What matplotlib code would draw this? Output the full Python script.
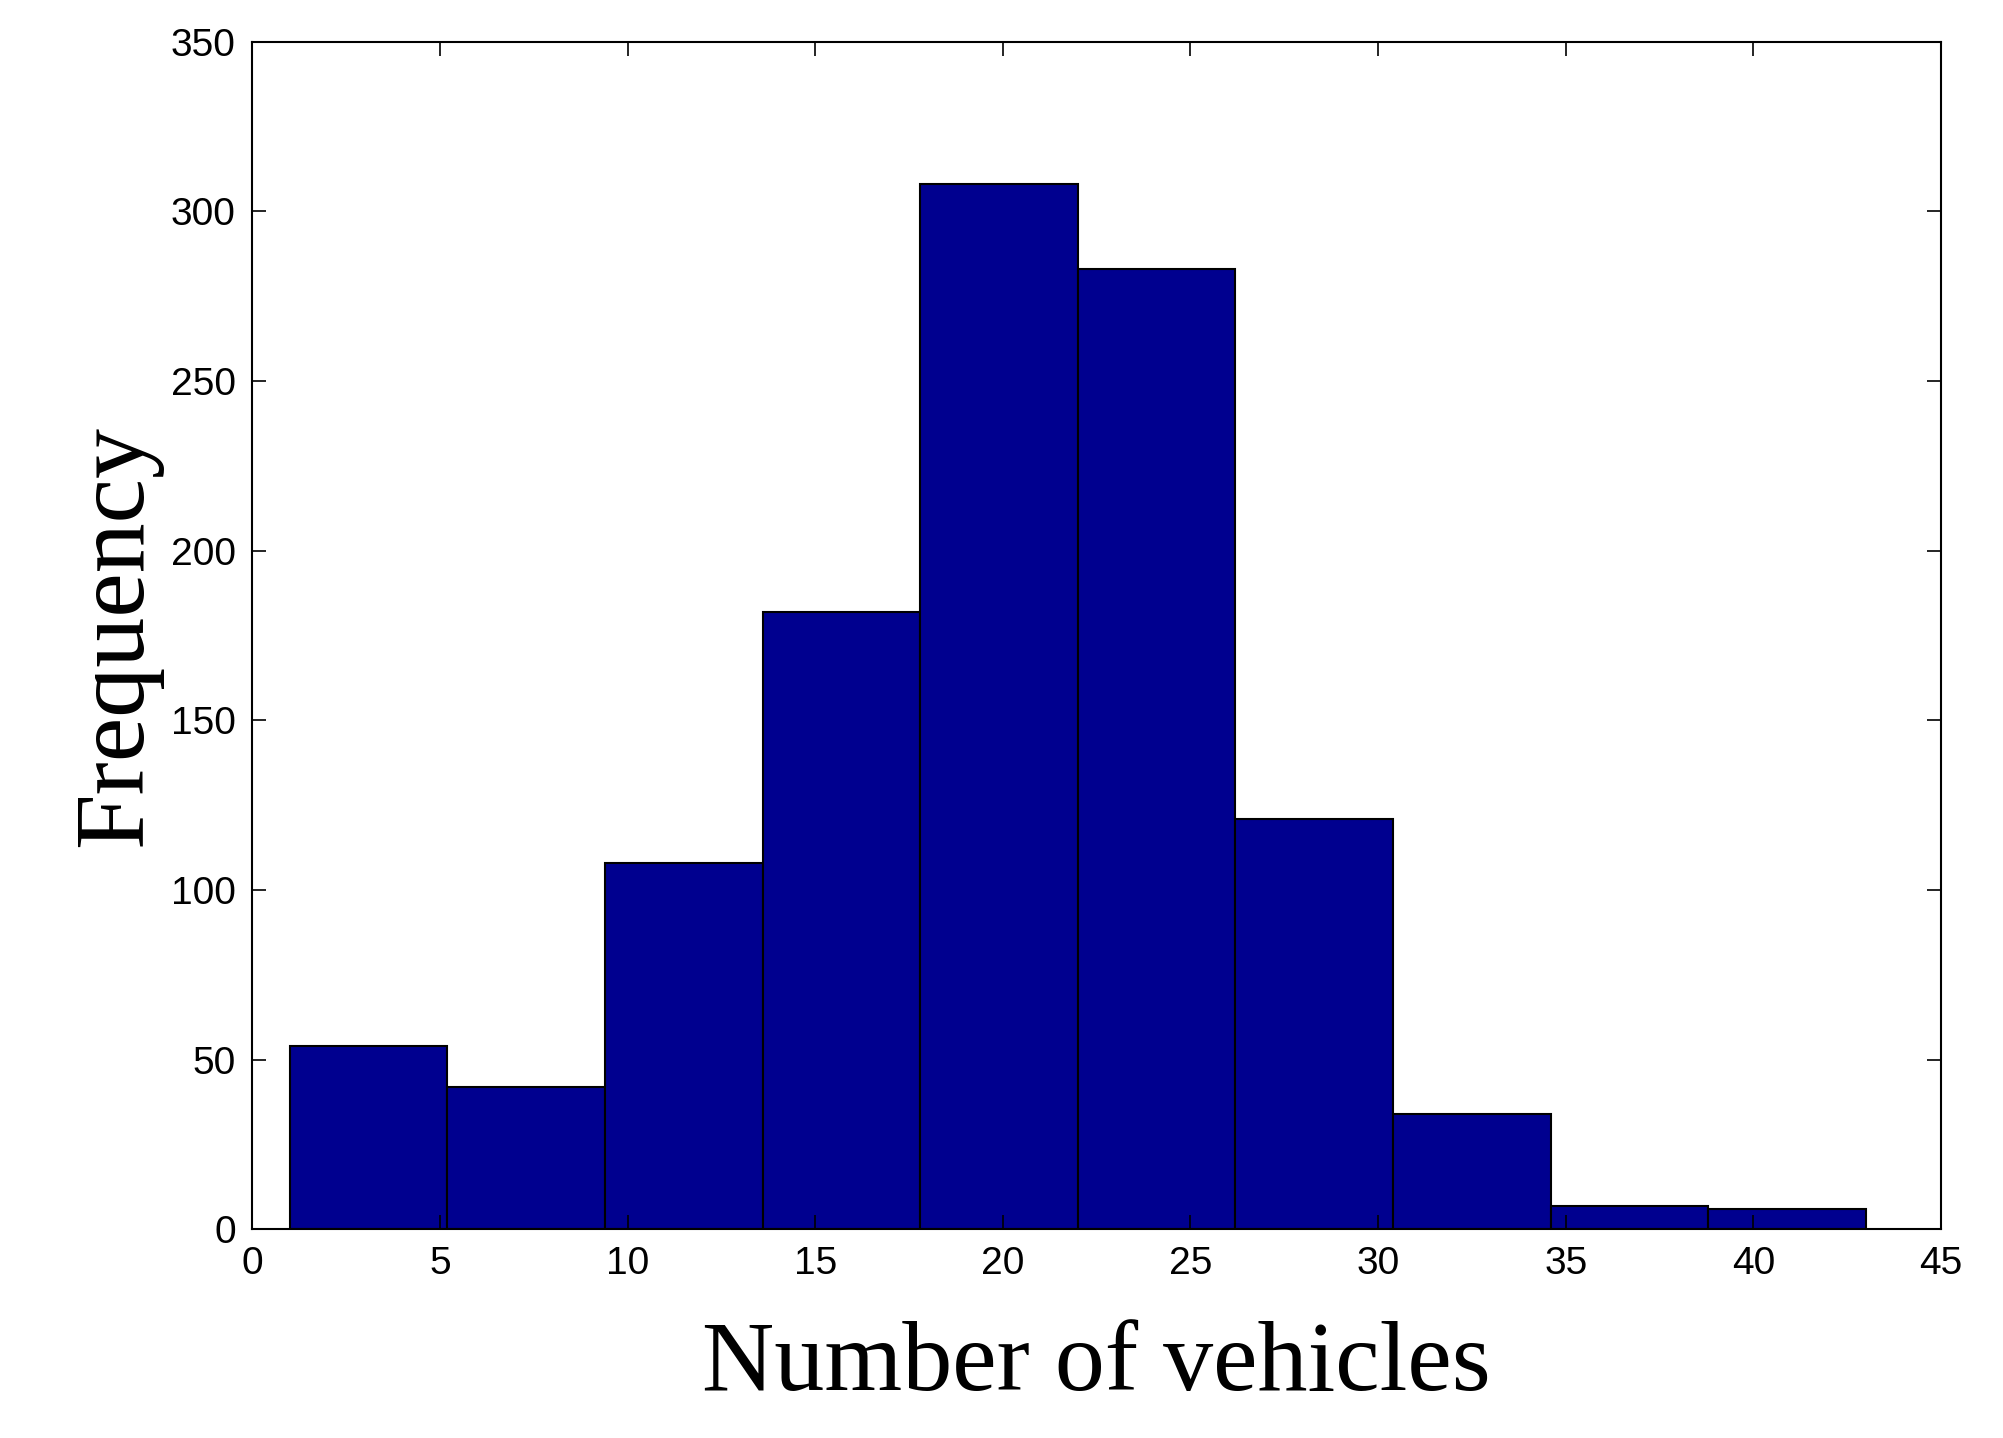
import matplotlib
matplotlib.use("Agg")
import matplotlib.pyplot as plt

# histogram bins (left edges) and counts
bin_edges = [1.0, 5.2, 9.4, 13.6, 17.8, 22.0, 26.2, 30.4, 34.6, 38.8, 43.0]
counts = [54, 42, 108, 182, 308, 283, 121, 34, 7, 6]
x_ticks = [0, 5, 10, 15, 20, 25, 30, 35, 40, 45]
y_ticks = [0, 50, 100, 150, 200, 250, 300, 350]

fig = plt.figure(figsize=(20.03, 14.38), dpi=100)
ax = fig.add_axes([0.126, 0.145, 0.843, 0.826])

widths = [b - a for a, b in zip(bin_edges[:-1], bin_edges[1:])]
ax.bar(bin_edges[:-1], counts, width=widths, align="edge",
       color="#00008F", edgecolor="black", linewidth=1.5)

ax.set_xlim(0, 45)
ax.set_ylim(0, 350)
ax.set_xticks(x_ticks)
ax.set_yticks(y_ticks)
ax.tick_params(direction="in", top=True, right=True, length=10, width=1.2,
               labelsize=28, pad=12)
for lab in ax.get_xticklabels() + ax.get_yticklabels():
    lab.set_family("Liberation Sans")
for s in ax.spines.values():
    s.set_linewidth(1.5)

ax.set_xlabel("Number of vehicles", family="Liberation Serif", fontsize=72, labelpad=28)
ax.set_ylabel("Frequency", family="Liberation Serif", fontsize=72, labelpad=6)

fig.savefig("out.png", dpi=100)
